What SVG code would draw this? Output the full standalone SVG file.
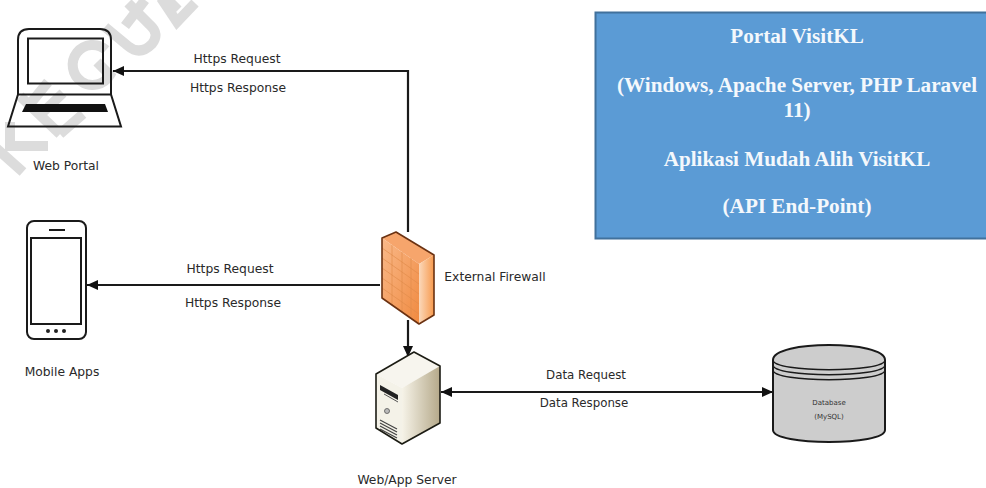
<svg xmlns="http://www.w3.org/2000/svg" width="986" height="488" viewBox="0 0 986 488">
<style>
.lbl{font-family:"DejaVu Sans","Liberation Sans",sans-serif;font-size:12.300px;fill:#2a2a2a;text-anchor:middle}
.bt{font-family:"Liberation Serif",serif;font-size:21.200px;font-weight:bold;fill:#f4f8fc;text-anchor:middle}
.ln{fill:none;stroke:#1a1a1a;stroke-width:2}
.wm{fill:none;stroke:#dcdcdc;stroke-width:10}
.con{fill:none;stroke:#1a1a1a;stroke-width:2.200}
.brick{stroke:#e08a4a;stroke-width:.8;fill:none;opacity:.8}
</style>
<defs>
<marker id="ah" markerUnits="userSpaceOnUse" markerWidth="12" markerHeight="12" refX="11" refY="6" orient="auto-start-reverse"><path d="M0,1 L11,6 L0,11 Z" fill="#111"/></marker>
<linearGradient id="fw" x1="0" y1="0" x2="1" y2="1"><stop offset="0" stop-color="#f9b98a"/><stop offset="1" stop-color="#f08a40"/></linearGradient>
<linearGradient id="fws" x1="0" y1="0" x2="1" y2="0"><stop offset="0" stop-color="#fbd8ba"/><stop offset="1" stop-color="#f79a4e"/></linearGradient>
<linearGradient id="sv" x1="0" y1="0" x2="1" y2="0"><stop offset="0" stop-color="#f6f3e8"/><stop offset="1" stop-color="#b5a98a"/></linearGradient>
</defs>
<g id="watermark">
<path class="wm" d="M-4,148 L23,172"/>
<path class="wm" d="M10,122 V146 H48"/>
<path class="wm" d="M60,134 L83,114 M60,134 L20,96 M40,115 L63,93 M30,104 L48,82"/>
<path class="wm" d="M106,50 A20,20 0 1 0 110,75 L97,62"/>
<path class="wm" d="M105,27 L128,46 Q140,56 152,44 Q160,34 150,25 L128,3"/>
<path class="wm" d="M125,26 L145,0"/>
<path class="wm" d="M161,-2 L177,22 L195,3"/>
<path class="wm" d="M168,0 L178,10"/>
</g>
<g id="web-portal">
<path class="ln" d="M18,95 V40 Q18,29 29,29 H100 Q111,29 111,40 V95"/>
<rect class="ln" x="28" y="38.500" width="75" height="45"/>
<path class="ln" d="M18,94.500 H111 L121,126.500 H8 Z"/>
<path d="M26,104 H105 L108,112 H22 Z" fill="#111"/>
<text class="lbl" x="66" y="170">Web Portal</text>
</g>
<g id="mobile-apps">
<rect class="ln" x="27" y="221" width="59" height="118" rx="7"/>
<rect class="ln" x="31" y="238" width="50" height="86"/>
<path class="ln" d="M49,230 H65"/>
<circle cx="48" cy="331" r="2" fill="#222"/><circle cx="56" cy="331" r="2" fill="#222"/><circle cx="64" cy="331" r="2" fill="#222"/>
<text class="lbl" x="62" y="376">Mobile Apps</text>
</g>
<g id="connectors">
<path class="con" d="M408,232 V71 H113" marker-end="url(#ah)"/>
<path class="con" d="M380,285 H87" marker-end="url(#ah)"/>
<path class="con" d="M408,320 V357" marker-end="url(#ah)"/>
<path class="con" d="M441,392 H773" marker-start="url(#ah)" marker-end="url(#ah)"/>
</g>
<g id="connector-labels">
<text class="lbl" x="237" y="63">Https Request</text>
<text class="lbl" x="238" y="92">Https Response</text>
<text class="lbl" x="230" y="273">Https Request</text>
<text class="lbl" x="233" y="307">Https Response</text>
<text class="lbl" x="586" y="379" style="font-size:11.800px">Data Request</text>
<text class="lbl" x="584" y="407" style="font-size:11.800px">Data Response</text>
</g>
<g id="firewall">
<path d="M382,238 L396,232 L434,255 L419,264 Z" fill="#f6a56c"/>
<path d="M382,238 L419,264 V324 L382,298 Z" fill="url(#fw)"/>
<path d="M419,264 L434,255 V315 L419,324 Z" fill="url(#fws)"/>
<path class="brick" d="M382,248 L419,274 M382,258 L419,284 M382,268 L419,294 M382,278 L419,304 M382,288 L419,314 M392,245 V305 M402,252 V312 M411,258 V318"/>
<path d="M382,238 L396,232 L434,255 V315 L419,324 L382,298 Z" fill="none" stroke="#6b3212" stroke-width="1.600" stroke-linejoin="round"/>
<text class="lbl" x="495" y="281">External Firewall</text>
</g>
<g id="web-app-server">
<path d="M376,374 L414,352 L440,366 L402,388 Z" fill="#f7f5ee"/>
<path d="M376,374 L402,388 V444 L376,428 Z" fill="#f4f2e8"/>
<path d="M402,388 L440,366 V423 L402,444 Z" fill="url(#sv)"/>
<path d="M380,385 L398,395 V400 L380,390 Z" fill="#222"/>
<path d="M384,394 L398,402" stroke="#555" stroke-width="1"/>
<circle cx="387" cy="411" r="2.500" fill="#bbb" stroke="#555" stroke-width=".8"/>
<path d="M380,423 L397,432 M380,426 L397,435 M380,420 L397,429 M380,429 L397,438" stroke="#444" stroke-width="1.200"/>
<path d="M376,374 L414,352 L440,366 V423 L402,444 L376,428 Z" fill="none" stroke="#1c1c14" stroke-width="1.600" stroke-linejoin="round"/>
<text class="lbl" x="407" y="484">Web/App Server</text>
</g>
<g id="database">
<path d="M773,360 V430 C773,446 885,446 885,430 V360 C885,340 773,340 773,360 Z" fill="#cdcdcd" stroke="#1a1a1a" stroke-width="2"/>
<path d="M773,360 C773,373 885,373 885,360 M773,365 C773,378 885,378 885,365 M773,370 C773,383 885,383 885,370" fill="none" stroke="#1a1a1a" stroke-width="1.500"/>
<text x="829" y="405" font-family="'DejaVu Sans',sans-serif" font-size="7" fill="#333" text-anchor="middle">Database</text>
<text x="829" y="419" font-family="'DejaVu Sans',sans-serif" font-size="7" fill="#333" text-anchor="middle">(MySQL)</text>
</g>
<g id="info-box">
<rect x="595.500" y="12.500" width="395" height="226" fill="#5b9bd5" stroke="#41719c" stroke-width="2"/>
<text class="bt" x="797" y="43">Portal VisitKL</text>
<text class="bt" x="797" y="92">(Windows, Apache Server, PHP Laravel</text>
<text class="bt" x="797" y="117">11)</text>
<text class="bt" x="797" y="166">Aplikasi Mudah Alih VisitKL</text>
<text class="bt" x="797" y="213">(API End-Point)</text>
</g>
</svg>
